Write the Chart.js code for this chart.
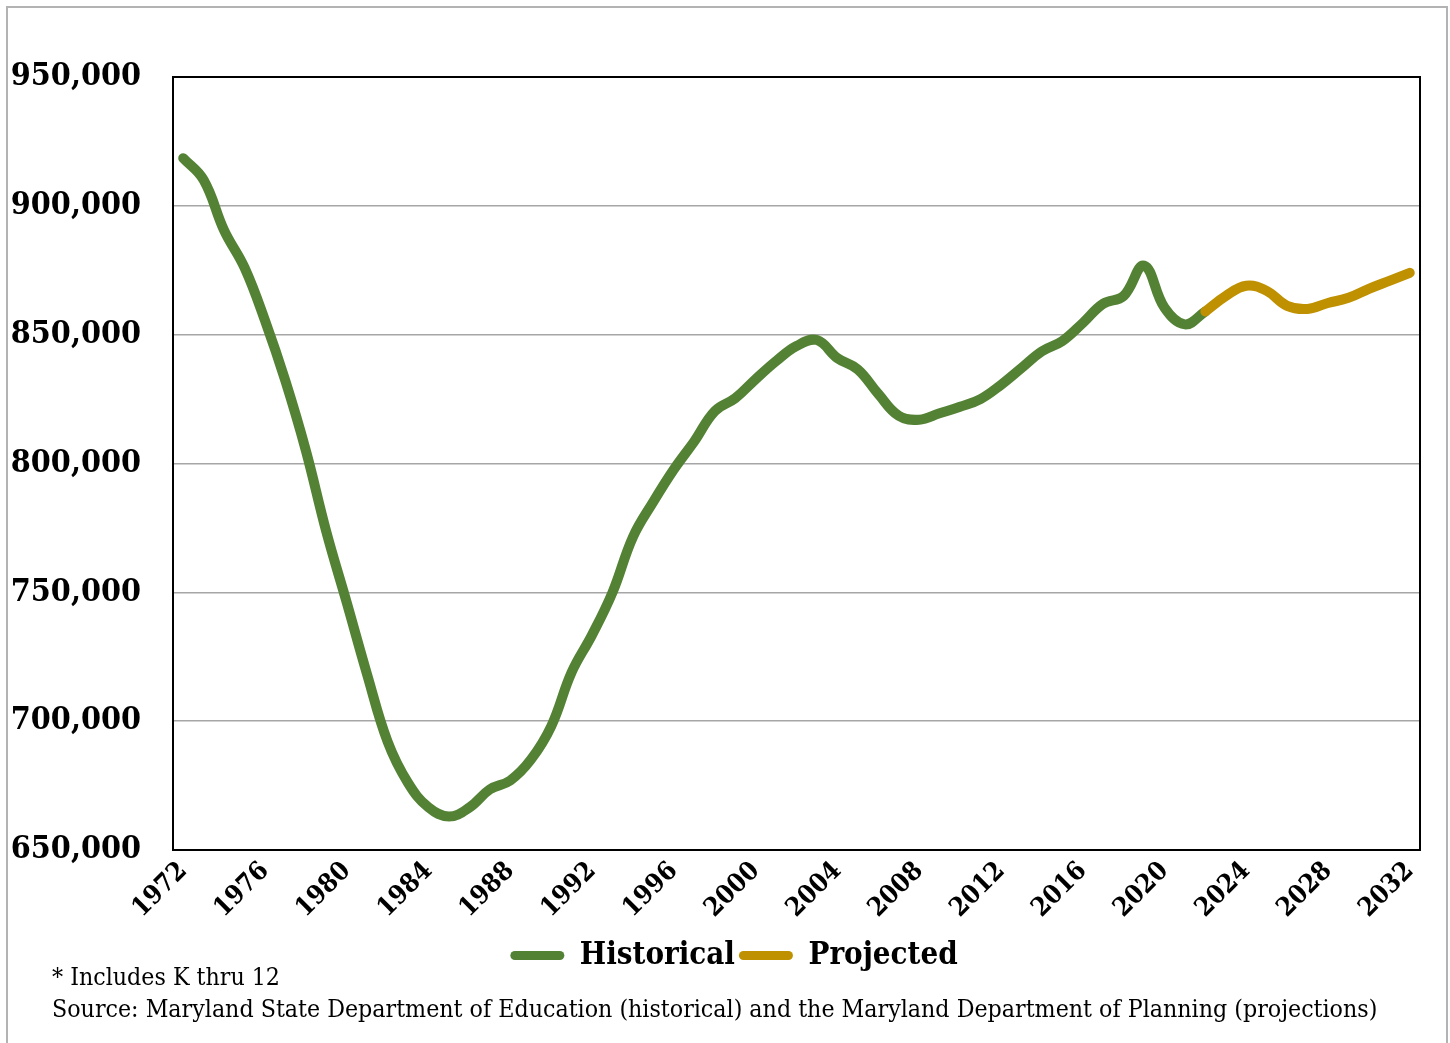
<!DOCTYPE html>
<html>
<head>
<meta charset="utf-8">
<script src="https://cdn.jsdelivr.net/npm/chart.js@4.4.1/dist/chart.umd.min.js"></script>
<style>
  html, body { margin: 0; padding: 0; background: #fff; }
  #wrap { width: 1450px; height: 1043px; position: relative; }
</style>
</head>
<body>
<div id="wrap"><canvas id="enrollChart" width="1450" height="1043"></canvas></div>
<script>
const years = [
  "1972","1973","1974","1975","1976","1977","1978","1979","1980","1981",
  "1982","1983","1984","1985","1986","1987","1988","1989","1990","1991",
  "1992","1993","1994","1995","1996","1997","1998","1999","2000","2001",
  "2002","2003","2004","2005","2006","2007","2008","2009","2010","2011",
  "2012","2013","2014","2015","2016","2017","2018","2019","2020","2021",
  "2022","2023","2024","2025","2026","2027","2028","2029","2030","2031",
  "2032"
];

// 1972 - 2022
const historical = [
  918500, 910000, 890500, 876000, 855500, 832000, 805000, 773500, 746000, 718000,
  692000, 676000, 666500, 663000, 666500, 673500, 677000, 685000, 698000, 719000,
  733500, 750000, 771500, 785200, 797700, 808600, 820300, 825300, 832700, 839700,
  845600, 847900, 840900, 836500, 827000, 818500, 817000, 819500, 822000, 825000,
  830500, 837000, 843500, 847500, 854500, 862000, 865000, 876800, 860500, 854000,
  859000
];

// 2022 - 2032
const projected = [
  859000, 865000, 869000, 867000, 861200, 860000, 862300, 864300, 867800, 870900,
  874000
];

const yTicks = [650000, 700000, 750000, 800000, 850000, 900000, 950000];

const footNotes = [
  "* Includes K thru 12",
  "Source: Maryland State Department of Education (historical) and the Maryland Department of Planning (projections)"
];

const serif = '"DejaVu Serif Condensed", "DejaVu Serif", "Liberation Serif", serif';

const histData = years.map((y, i) => i < historical.length ? historical[i] : null);
const projStart = years.indexOf("2022");
const projData = years.map((y, i) => i >= projStart ? projected[i - projStart] : null);

// outer frame, plot box, legend nudge and footnote
const extras = {
  id: "extras",
  afterLayout(chart) {
    // the legend sits a little right of the page centre
    chart.legend.left += 24;
    chart.legend.right += 24;
  },
  beforeDraw(chart) {
    const c = chart.ctx;
    c.save();
    c.strokeStyle = "#b3b3b3";
    c.lineWidth = 2;
    c.strokeRect(7, 7, 1440, 1060);
    c.restore();
  },
  afterDatasetsDraw(chart) {
    const a = chart.chartArea;
    const c = chart.ctx;
    c.save();
    c.strokeStyle = "#000";
    c.lineWidth = 2;
    c.strokeRect(a.left, a.top, a.right - a.left, a.bottom - a.top);
    c.restore();
  },
  afterDraw(chart) {
    const c = chart.ctx;
    c.save();
    c.fillStyle = "#000";
    c.font = "24.7px " + serif;
    c.textBaseline = "middle";
    c.fillText(footNotes[0], 52, 979);
    c.fillText(footNotes[1], 52, 1011);
    c.restore();
  }
};

new Chart(document.getElementById("enrollChart"), {
  type: "line",
  data: {
    labels: years,
    datasets: [
      {
        label: "Historical",
        data: histData,
        borderColor: "#548235",
        backgroundColor: "#548235",
        order: 1
      },
      {
        label: "Projected",
        data: projData,
        borderColor: "#BF9000",
        backgroundColor: "#BF9000",
        order: 0
      }
    ]
  },
  options: {
    responsive: false,
    animation: false,
    devicePixelRatio: 1,
    elements: {
      line: { borderWidth: 10, tension: 0.4, borderCapStyle: "round", borderJoinStyle: "round" },
      point: { radius: 0, hoverRadius: 0 }
    },
    layout: { padding: { left: 0, right: 30, top: 77, bottom: 62 } },
    scales: {
      x: {
        offset: true,
        grid: { display: false, drawTicks: false },
        border: { display: true, color: "#000", width: 2 },
        ticks: {
          autoSkip: false,
          maxRotation: 45,
          minRotation: 45,
          padding: 6,
          color: "#000",
          font: { family: serif, size: 26, weight: "bold" },
          callback: (v, i) => i % 4 === 0 ? years[i] : ""
        },
        afterFit: s => { s.height = 86; }
      },
      y: {
        min: 650000,
        max: 950000,
        afterBuildTicks: s => { s.ticks = yTicks.map(v => ({ value: v })); },
        grid: { color: "#a6a6a6", lineWidth: 1.5, drawTicks: false },
        border: { display: true, color: "#000", width: 2 },
        ticks: {
          padding: 32,
          color: "#000",
          font: { family: serif, size: 32, weight: "bold" },
          callback: v => v.toLocaleString("en-US")
        },
        afterFit: s => { s.width = 173; }
      }
    },
    plugins: {
      legend: {
        position: "bottom",
        labels: {
          color: "#000",
          font: { family: serif, size: 31, weight: "bold" },
          boxWidth: 54,
          boxHeight: 9,
          padding: 4,
          useBorderRadius: true,
          borderRadius: 4.5,
          sort: (a, b) => a.datasetIndex - b.datasetIndex,
          generateLabels(chart) {
            const items = Chart.defaults.plugins.legend.labels.generateLabels(chart);
            items.forEach(it => { it.lineWidth = 0; it.fillStyle = it.strokeStyle; });
            return items;
          }
        }
      },
      tooltip: { enabled: false }
    }
  },
  plugins: [extras]
});
</script>
</body>
</html>
